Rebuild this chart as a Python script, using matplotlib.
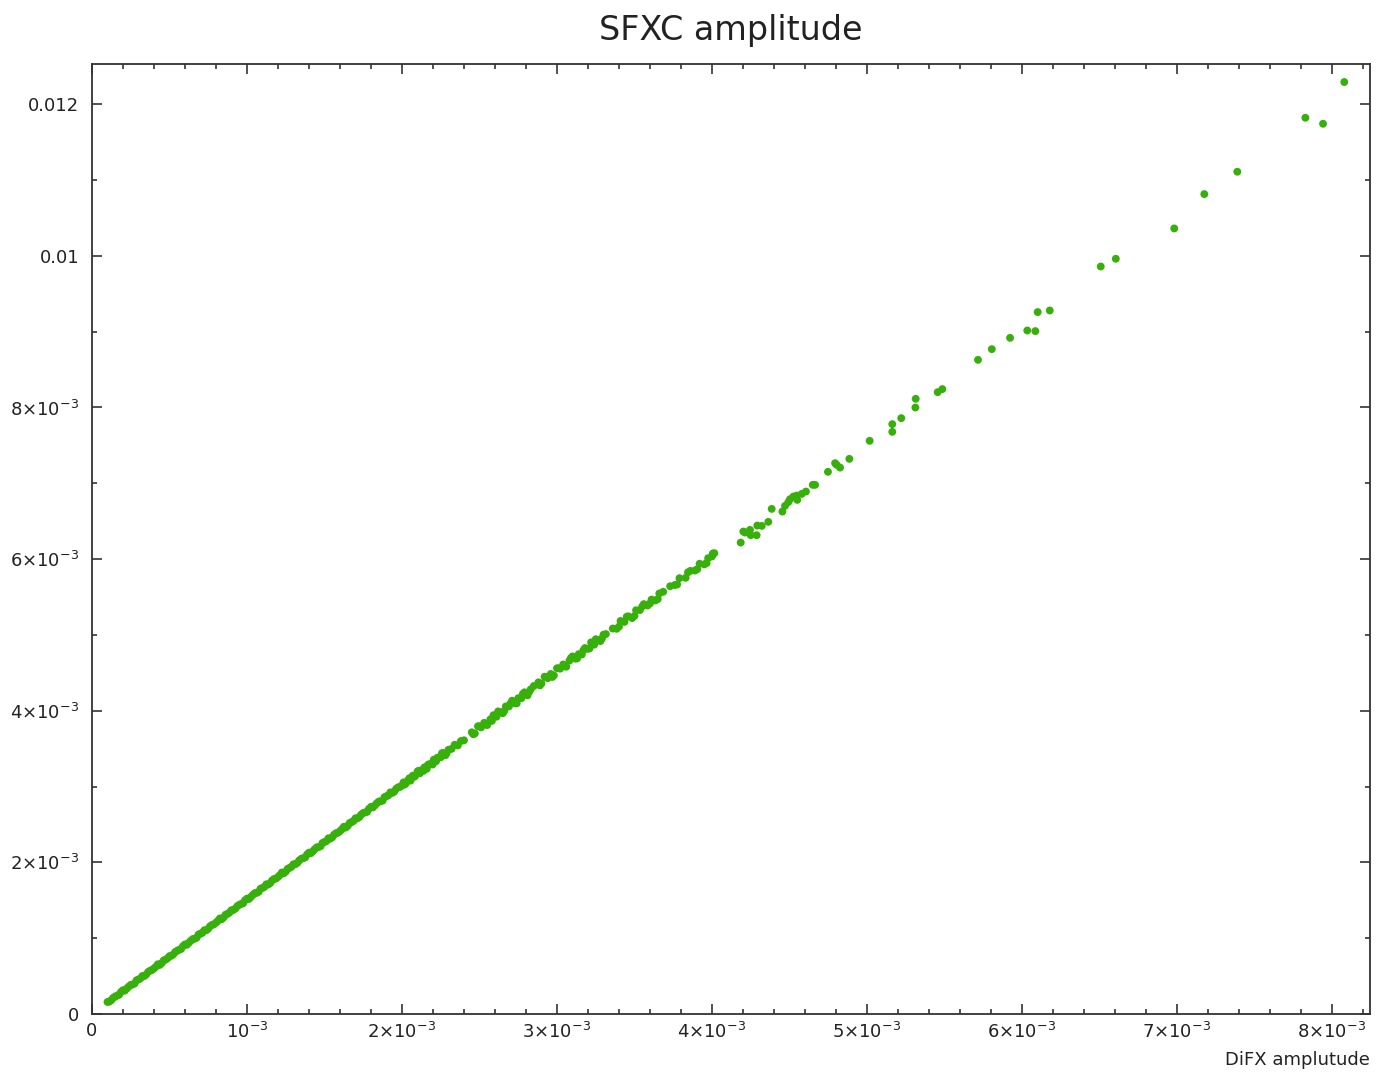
import numpy as np
import matplotlib
matplotlib.use("Agg")
import matplotlib.pyplot as plt
from matplotlib.ticker import FixedLocator, MultipleLocator

# amplitudes in units of 1e-6
# dense part, first row
difx_a = [100, 125, 150, 175, 200, 225, 250, 275, 300, 325, 350, 375, 400, 425, 450, 475,
          500, 525, 550, 575, 600, 625, 650, 675, 700, 725, 750, 775, 800, 825, 850, 875,
          900, 925, 950, 975, 1000, 1025, 1050, 1075, 1100, 1125, 1150, 1175, 1200, 1225,
          1250, 1275, 1300, 1325, 1350, 1375, 1400, 1425, 1450, 1475, 1500, 1525, 1550,
          1575, 1600, 1625, 1650, 1675, 1700, 1725, 1750, 1775, 1800, 1825, 1850, 1875,
          1900, 1925, 1950, 1975, 2000]
sfxc_a = [159, 183, 230, 254, 314, 336, 384, 403, 455, 501, 521, 571, 601, 656, 671, 718,
          763, 787, 834, 858, 918, 940, 988, 1007, 1059, 1105, 1125, 1175, 1205, 1260, 1275,
          1322, 1369, 1391, 1440, 1460, 1522, 1544, 1594, 1611, 1663, 1711, 1727, 1781, 1808,
          1866, 1877, 1928, 1975, 1993, 2047, 2064, 2128, 2146, 2198, 2213, 2269, 2317, 2331,
          2385, 2412, 2470, 2481, 2531, 2581, 2597, 2651, 2666, 2732, 2750, 2802, 2815, 2873,
          2923, 2933, 2989, 3014]

# dense part, second row
difx_b = [112, 137, 162, 187, 212, 237, 262, 287, 312, 337, 362, 387, 412, 437, 462, 487,
          512, 537, 562, 587, 612, 637, 662, 687, 712, 737, 762, 787, 812, 837, 862, 887,
          912, 937, 962, 987, 1012, 1037, 1062, 1087, 1112, 1137, 1162, 1187, 1212, 1237,
          1262, 1287, 1312, 1337, 1362, 1387, 1412, 1437, 1462, 1487, 1512, 1537, 1562,
          1587, 1612, 1637, 1662, 1687, 1712, 1737, 1762, 1787, 1812, 1837, 1862, 1887,
          1912, 1937, 1962, 1987]
sfxc_b = [164, 214, 243, 291, 309, 362, 389, 444, 468, 500, 554, 579, 624, 647, 706, 734,
          768, 818, 847, 895, 913, 966, 993, 1048, 1072, 1104, 1158, 1183, 1228, 1251, 1310,
          1338, 1372, 1422, 1451, 1499, 1517, 1570, 1597, 1652, 1676, 1708, 1762, 1787, 1832,
          1855, 1914, 1942, 1976, 2026, 2055, 2103, 2121, 2174, 2201, 2256, 2280, 2312, 2366,
          2391, 2436, 2459, 2518, 2546, 2580, 2630, 2659, 2707, 2725, 2778, 2805, 2860, 2884,
          2916, 2970, 2995]

# upper part of the band, 2e-3 .. 4e-3
difx_c = [2010, 2025, 2040, 2055, 2070, 2085, 2100, 2115, 2130, 2145, 2160, 2175, 2190, 2205,
          2220, 2235, 2250, 2265, 2280, 2300, 2320, 2340, 2360, 2380, 2400,
          2018, 2048, 2078, 2108, 2138, 2168, 2198, 2228, 2258, 2288,
          2450, 2470, 2490, 2510, 2530, 2550, 2570, 2590, 2610, 2630, 2650, 2670, 2690, 2710,
          2730, 2750, 2770, 2790, 2810, 2830, 2850,
          2460, 2500, 2540, 2580, 2620, 2660, 2700, 2740, 2780, 2820,
          2880, 2900, 2920, 2940, 2960, 2980, 3000, 3020, 3040, 3060, 3080, 3100, 3120, 3140,
          3160, 3180, 3200, 3220, 3240, 3260, 3280, 3300, 3315,
          2890, 2930, 2970, 3010, 3050, 3090, 3130, 3170, 3210, 3250, 3290,
          3360, 3385, 3410, 3435, 3460, 3485, 3510, 3535, 3560, 3585, 3610, 3635, 3660, 3685,
          3400, 3450, 3500, 3550, 3600, 3650,
          3730, 3760, 3790, 3830, 3860, 3890, 3920, 3950, 3975, 4000, 4015,
          3775, 3845, 3905, 3965, 4005]
sfxc_c = [3055, 3043, 3085, 3078, 3144, 3140, 3199, 3174, 3219, 3254, 3234, 3294, 3302, 3355,
          3334, 3383, 3386, 3442, 3413, 3485, 3497, 3551, 3542, 3600, 3610,
          3027, 3110, 3128, 3208, 3206, 3286, 3291, 3379, 3440, 3440,
          3715, 3700, 3795, 3780, 3840, 3811, 3886, 3941, 3921, 3981, 3967, 4057, 4057, 4132,
          4097, 4165, 4165, 4243, 4203, 4281, 4326,
          3690, 3795, 3820, 3866, 3991, 3997, 4095, 4097, 4223, 4248,
          4374, 4359, 4449, 4429, 4485, 4465, 4560, 4555, 4610, 4581, 4661, 4716, 4686, 4746,
          4742, 4827, 4817, 4902, 4872, 4933, 4918, 5003, 5011,
          4334, 4444, 4445, 4560, 4586, 4696, 4691, 4797, 4822, 4943, 4953,
          5084, 5081, 5184, 5172, 5245, 5222, 5325, 5328, 5406, 5388, 5466, 5454, 5547, 5569,
          5109, 5240, 5250, 5376, 5416, 5472,
          5642, 5658, 5748, 5753, 5844, 5849, 5939, 5930, 6012, 6035, 6078,
          5665, 5826, 5867, 5947, 6073]

# sparse points above 4e-3
difx_d = [4185, 4202, 4213, 4234, 4245, 4250, 4288, 4292, 4321, 4363, 4385, 4454, 4471, 4492,
          4503, 4525, 4546, 4550, 4579, 4606, 4650, 4665, 4748, 4794, 4804, 4826, 4886, 5017,
          5163, 5163, 5221, 5312, 5314, 5456, 5486, 5716, 5805, 5923, 6034, 6086, 6101, 6179,
          6508, 6605, 6982, 7176, 7389, 7828, 7942, 8079]
sfxc_d = [6218, 6363, 6350, 6350, 6385, 6315, 6315, 6442, 6438, 6491, 6662, 6627, 6702, 6751,
          6790, 6825, 6838, 6781, 6860, 6891, 6979, 6979, 7151, 7265, 7243, 7207, 7322, 7560,
          7780, 7678, 7859, 7999, 8114, 8202, 8242, 8628, 8769, 8918, 9015, 9007, 9258, 9279,
          9859, 9961, 10361, 10814, 11109, 11821, 11742, 12292]

x_ticks = [0, 1e-3, 2e-3, 3e-3, 4e-3, 5e-3, 6e-3, 7e-3, 8e-3]
x_labels = ['0', r'$10^{-3}$', r'$2{\times}10^{-3}$', r'$3{\times}10^{-3}$', r'$4{\times}10^{-3}$',
            r'$5{\times}10^{-3}$', r'$6{\times}10^{-3}$', r'$7{\times}10^{-3}$', r'$8{\times}10^{-3}$']
y_ticks = [0, 2e-3, 4e-3, 6e-3, 8e-3, 0.01, 0.012]
y_labels = ['0', r'$2{\times}10^{-3}$', r'$4{\times}10^{-3}$', r'$6{\times}10^{-3}$',
            r'$8{\times}10^{-3}$', '0.01', '0.012']

difx = np.array(difx_a + difx_b + difx_c + difx_d) * 1e-6
sfxc = np.array(sfxc_a + sfxc_b + sfxc_c + sfxc_d) * 1e-6

plt.rcParams['mathtext.fontset'] = 'dejavusans'

fig = plt.figure(figsize=(13.76, 10.75), dpi=100)
ax = fig.add_axes([92 / 1376, 61 / 1075, 1278 / 1376, 950 / 1075])

ax.scatter(difx, sfxc, s=32, color='#38b00c', edgecolors='none', zorder=3)

ax.set_xlim(0, 8.245e-3)
ax.set_ylim(0, 12.53e-3)

ax.xaxis.set_major_locator(FixedLocator(x_ticks))
ax.set_xticklabels(x_labels)
ax.xaxis.set_minor_locator(MultipleLocator(2e-4))
ax.yaxis.set_major_locator(FixedLocator(y_ticks))
ax.set_yticklabels(y_labels)
ax.yaxis.set_minor_locator(MultipleLocator(1e-3))

ax.tick_params(which='both', direction='in', top=True, right=True, colors='#222222',
               labelsize=13, width=1.1)
ax.tick_params(which='major', length=7)
ax.tick_params(which='minor', length=3.5)
ax.tick_params(axis='x', pad=6)
ax.tick_params(axis='y', pad=9)

for sp in ax.spines.values():
    sp.set_linewidth(1.3)
    sp.set_color('#333333')

ax.set_title('SFXC amplitude', fontsize=24, pad=17, color='#222222')
ax.set_xlabel('DiFX amplutude', fontsize=13, loc='right', labelpad=6, color='#222222')

fig.savefig('out.png', dpi=100)
